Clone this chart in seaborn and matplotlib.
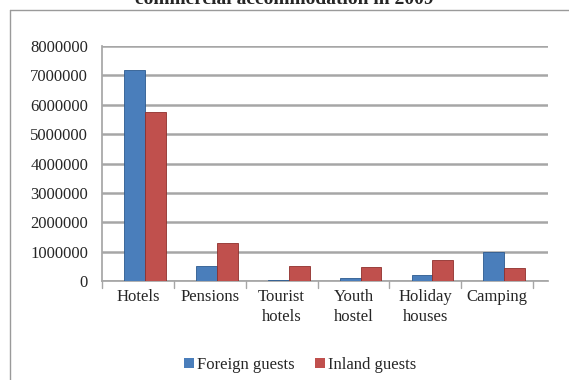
import matplotlib
matplotlib.use("Agg")
import matplotlib.pyplot as plt
import seaborn as sns
import pandas as pd
from matplotlib.lines import Line2D
from matplotlib.patches import Patch

categories = ["Hotels", "Pensions", "Tourist\nhotels", "Youth\nhostel", "Holiday\nhouses", "Camping"]
foreign = [7200000, 500000, 50000, 100000, 200000, 1000000]
inland = [5750000, 1300000, 500000, 480000, 700000, 450000]
series = ["Foreign guests", "Inland guests"]
yticks = [0, 1000000, 2000000, 3000000, 4000000, 5000000, 6000000, 7000000, 8000000]

df = pd.DataFrame({
    "cat": categories * 2,
    "val": foreign + inland,
    "series": [series[0]] * len(categories) + [series[1]] * len(categories),
})

sns.set_theme(style="white")
plt.rcParams["font.family"] = ["Liberation Serif", "DejaVu Serif"]

W, H = 569, 380
fig = plt.figure(figsize=(W / 100, H / 100), dpi=100)
ax = fig.add_axes([102 / W, 1 - 281 / H, (548 - 102) / W, (281 - 46) / H])

colors = {"Foreign guests": "#4a7ebb", "Inland guests": "#c0504d"}
edges = {"Foreign guests": "#2c5a8f", "Inland guests": "#8f2f2c"}
sns.barplot(data=df, x="cat", y="val", hue="series", palette=colors,
            width=0.58, ax=ax, legend=False, zorder=3, saturation=1)
for i, bar in enumerate(ax.patches):
    s = series[0] if i < len(categories) else series[1]
    bar.set_edgecolor(edges[s])
    bar.set_linewidth(0.6)
    bar.set_x(bar.get_x() + 0.1)

ax.set_xlim(-0.5, 5.5 + 15 / 72)
ax.set_ylim(0, 8000000)
ax.set_yticks(yticks)
ax.set_yticklabels([str(v) for v in yticks], fontsize=12)
ax.set_xticks(range(len(categories)))
ax.set_xticklabels(categories, fontsize=12, linespacing=1.3)
ax.tick_params(axis="x", length=0, pad=6)
ax.tick_params(axis="y", length=0, pad=10)
ax.set_xlabel("")
ax.set_ylabel("")
ax.yaxis.grid(True, color="#a6a6a6", linewidth=1.8, zorder=0)
ax.set_axisbelow(True)
for sp in ["top", "right"]:
    ax.spines[sp].set_visible(False)
ax.spines["left"].set_color("#a6a6a6")
ax.spines["bottom"].set_color("#a6a6a6")
# category separator ticks
for k in range(len(categories) + 1):
    ax.plot([k - 0.5, k - 0.5], [0, -250000], color="#a6a6a6", lw=1,
            clip_on=False, zorder=2)

# outer chart frame (left and top edges)
fig.add_artist(Line2D([10 / W, 10 / W], [0, 1 - 10 / H], color="#9a9a9a", lw=1,
                      transform=fig.transFigure))
fig.add_artist(Line2D([10 / W, 1.0], [1 - 10 / H, 1 - 10 / H], color="#9a9a9a", lw=1,
                      transform=fig.transFigure))

fig.text(0.5, 1 - 4 / H, "commercial accommodation in 2009", ha="center",
         va="baseline", fontsize=14, fontweight="bold")

handles = [Patch(facecolor=colors[s], edgecolor="none") for s in series]
fig.legend(handles, series, loc="center", bbox_to_anchor=(300 / W, 1 - 365 / H),
           ncol=2, frameon=False, fontsize=12, handlelength=0.6, handleheight=0.6,
           handletextpad=0.2, columnspacing=1.2)

fig.savefig("out.png", dpi=100)
